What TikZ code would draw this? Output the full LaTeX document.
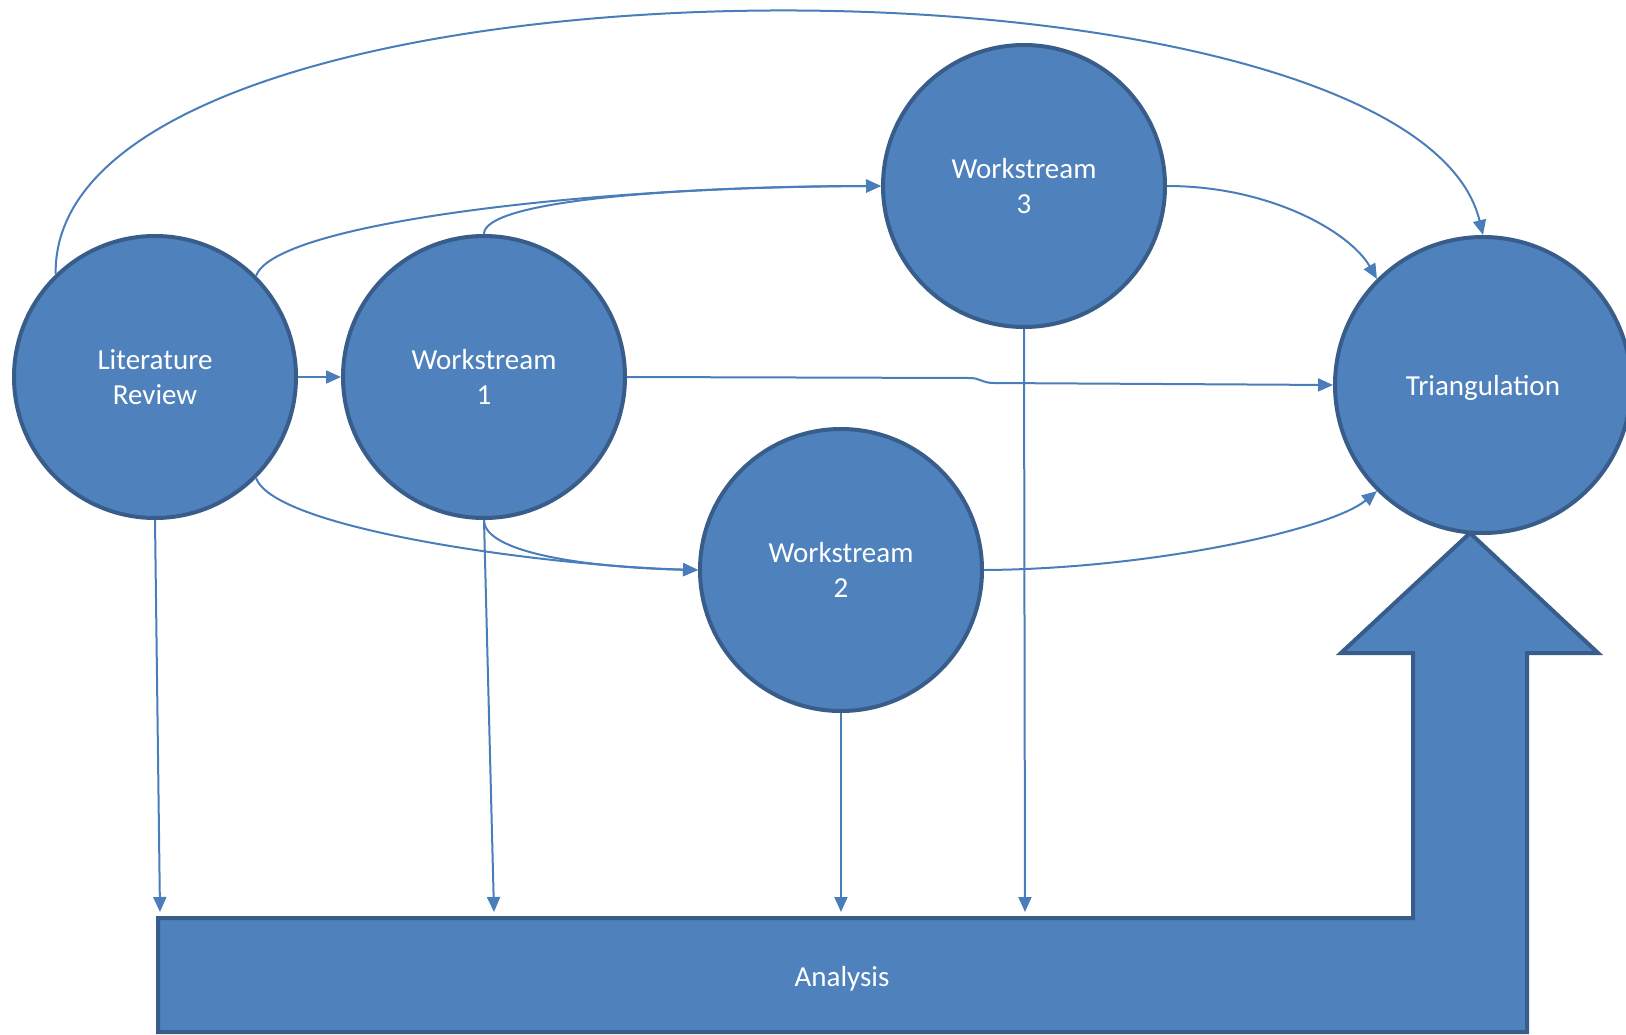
\documentclass[tikz,border=0pt]{standalone}
\usepackage{fontspec}
\setmainfont{Carlito}
\usetikzlibrary{arrows.meta}
\definecolor{fillblue}{HTML}{4F81BD}
\definecolor{edgeblue}{HTML}{385D8A}
\definecolor{linkblue}{HTML}{4A7EBB}
\tikzset{
  bubble/.style={circle, draw=edgeblue, fill=fillblue, line width=4pt, inner sep=0pt,
    minimum size=282pt, text=white, align=center, font=\fontsize{29}{35}\selectfont},
  link/.style={draw=linkblue, line width=2pt, -{Triangle[length=15pt,width=13pt]}},
  bigarrow/.style={draw=edgeblue, fill=fillblue, line width=4pt, line join=miter}
}
\begin{document}
\begin{tikzpicture}[x=1pt,y=-1pt]
\useasboundingbox (0,0) rectangle (1626,1034);
% big L-shaped arrow (Analysis -> Triangulation)
\path[bigarrow] (158,918) -- (1413,918) -- (1413,653) -- (1341,653) -- (1470,533)
  -- (1598,653) -- (1527,653) -- (1527,1032) -- (158,1032) -- cycle;
\node[text=white, font=\fontsize{29}{35}\selectfont] (an) at (842,979) {Analysis};
% circles
\node[bubble] (lr) at (155,377) {Literature\\Review};
\node[bubble] (w1) at (484,377) {Workstream\\1};
\node[bubble] (w3) at (1024,186) {Workstream\\3};
\node[bubble] (w2) at (841,570) {Workstream\\2};
\node[bubble, minimum size=296pt] (tri) at (1483,385) {};
\node[text=white, font=\fontsize{29}{35}\selectfont] (tritext) at (1483,388) {Triangulation};
% arrow end points at the analysis bar
\coordinate (a1) at (160,912);
\coordinate (a2) at (494,912);
\coordinate (a3) at (841,912);
\coordinate (a4) at (1025,912);
% connectors
\draw[link] (lr.east) -- (w1.west);
\draw[link] (lr.134) .. controls (50,-68) and (1410,-68) .. (tri.north);
\draw[link] (lr.45) .. controls (275,222) and (600,186) .. (w3.west);
\draw[link] (w1.north) .. controls (484,203) and (650,187) .. (w3.west);
\draw[link] (lr.-45) .. controls (275,530) and (550,566) .. (w2.west);
\draw[link] (w1.south) .. controls (484,555) and (600,568) .. (w2.west);
\draw[link] (w3.east) .. controls (1270,186) and (1350,232) .. (tri.135);
\draw[link] (w2.east) .. controls (1150,569) and (1330,530) .. (tri.225);
\draw[link] (w1.east) -- (970,378) .. controls (980,378) and (982,383) .. (994,383) -- (tri.west);
\draw[link] (lr.south) -- (a1);
\draw[link] (w1.south) -- (a2);
\draw[link] (w2.south) -- (a3);
\draw[link] (w3.south) -- (a4);
\end{tikzpicture}
\end{document}
